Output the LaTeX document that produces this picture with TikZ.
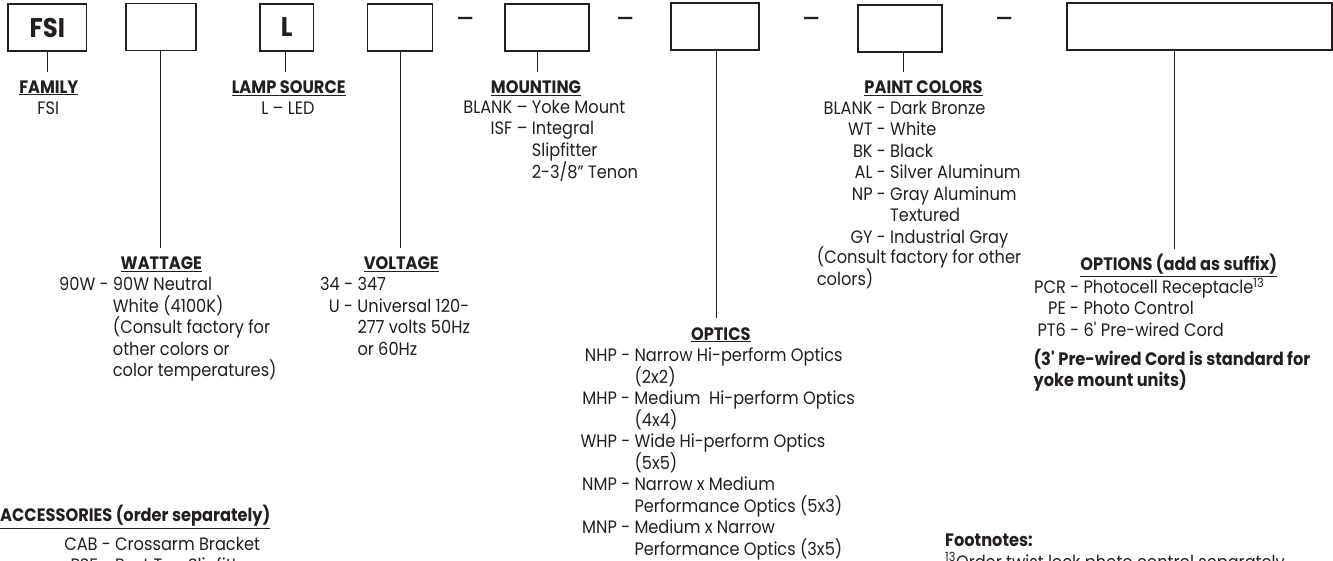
\documentclass[tikz,border=0pt]{standalone}
\usepackage{fontspec}
\setmainfont{Poppins}[FakeStretch=0.9]
\usetikzlibrary{positioning}
\definecolor{ink}{RGB}{35,31,32}
% code then dash, hung left of the description column
\newcommand\cd[2][-]{\llap{#2\ #1\ }}
% lines of a list, baseline on the first line, even line spacing
\newcommand\lst[1]{\vtop{\let\\\cr\halign{##\hfil\cr#1\crcr}}}
\tikzset{
  % ordering code boxes
  slot/.style={draw=ink,line width=1.2pt,minimum height=47pt,inner sep=0pt,
    font=\fontsize{27}{30}\selectfont\bfseries,text=ink},
  sep/.style={font=\fontsize{30}{30}\selectfont,text=ink,inner sep=0pt},
  link/.style={draw=ink,line width=1pt},
  % captions under the boxes
  head/.style={font=\fontsize{18}{21.5}\selectfont\bfseries,text=ink,inner xsep=0pt,
    inner ysep=8pt,text height=13.5pt,text depth=4pt,anchor=base},
  list/.style={font=\fontsize{18}{21.5}\selectfont,text=ink,inner sep=0pt,
    anchor=base west},
  note/.style={list,font=\fontsize{18}{21.5}\selectfont\bfseries},
}
\begin{document}
\begin{tikzpicture}[x=1pt,y=-1pt]
  \path[use as bounding box,clip] (0,0) rectangle (1333,561);
  \node[slot,minimum width=78.7pt] (fam) at (47.3,27.5) {FSI};
  \node[slot,minimum width=70pt] (watt) at (161,27) {};
  \node[slot,minimum width=53.3pt] (lamp) at (286.7,27.5) {L};
  \node[slot,minimum width=65.3pt] (volt) at (400,27.5) {};
  \node[slot,minimum width=84pt] (mount) at (547,27.5) {};
  \node[slot,minimum width=88pt] (optic) at (715,26.5) {};
  \node[slot,minimum width=84pt] (paint) at (900,28.5) {};
  \node[slot,minimum width=265pt] (opt) at (1199.5,26.5) {};
  \foreach \x [count=\i] in {465.5,625.5,811.5,1005}
    \node[sep] (sep\i) at (\x,23) {--};
  % headings
  \node[head] (famH) at (48.8,93.3) {\underline{FAMILY}};
  \node[head] (lampH) at (288.7,93.3) {\underline{LAMP SOURCE}};
  \node[head] (mountH) at (536,93.3) {\underline{MOUNTING}};
  \node[head] (paintH) at (923.5,93.3) {\underline{PAINT COLORS}};
  \node[head] (wattH) at (161.3,270) {\underline{WATTAGE}};
  \node[head] (voltH) at (401.3,270) {\underline{VOLTAGE}};
  \node[head] (opticH) at (720.8,340) {\underline{OPTICS}};
  \node[head] (optH) at (1178.8,270.7) {\underline{OPTIONS (add as suffix)}};
  \node[head,anchor=base west] (accH) at (0,521.7) {\underline{ACCESSORIES (order separately)}};
  \foreach \n/\dx in {fam/0,watt/-1,lamp/-1.7,volt/0.7,mount/-9.3,optic/1.7,paint/3,opt/-25.5}
    \draw[link] ([xshift=\dx pt]\n.south) -- ([xshift=\dx pt]\n.south |- \n H.north);
  % choices
  \node[list,anchor=base] (famL) at (48.3,115) {FSI};
  \node[list,anchor=base] (lampL) at (288,115) {L -- LED};
  \node[list] (mountL) at (531.7,113.3) {\lst{\cd[--]{BLANK}Yoke Mount\\\cd[--]{ISF}Integral\\
    Slipfitter\\2-3/8" Tenon}};
  \node[list] (paintL) at (890,114.3) {\lst{\cd{BLANK}Dark Bronze\\\cd{WT}White\\\cd{BK}Black\\
    \cd{AL}Silver Aluminum\\\cd{NP}Gray Aluminum\\Textured\\\cd{GY}Industrial Gray}};
  \node[list] (paintN) at (816.7,264) {\lst{(Consult factory for other\\colors)}};
  \node[list] (wattL) at (112.7,290.7) {\lst{\cd{90W}90W Neutral\\White (4100K)\\
    (Consult factory for\\other colors or\\color temperatures)}};
  \node[list] (voltL) at (357.3,290.7) {\lst{\cd{34}347\\\cd{U}Universal 120-\\277 volts 50Hz\\or 60Hz}};
  \node[list] (opticL) at (634.3,361.7) {\lst{\cd{NHP}Narrow Hi-perform Optics\\(2x2)\\
    \cd{MHP}Medium\ \ Hi-perform Optics\\(4x4)\\\cd{WHP}Wide Hi-perform Optics\\(5x5)\\
    \cd{NMP}Narrow x Medium\\Performance Optics (5x3)\\\cd{MNP}Medium x Narrow\\
    Performance Optics (3x5)}};
  \node[list] (optL) at (1083.3,293.3) {\lst{\cd{PCR}Photocell Receptacle\textsuperscript{13}\\
    \cd{PE}Photo Control\\\cd{PT6}6\textquotesingle{} Pre-wired Cord}};
  \node[note] (optN) at (1033.3,365) {\lst{(3\textquotesingle{} Pre-wired Cord is standard for\\
    yoke mount units)}};
  \node[list] (accL) at (115,550) {\lst{\cd{CAB}Crossarm Bracket\\\cd{PSF}Post Top Slipfitter}};
  \node[list] (foot) at (945,546.7) {\lst{\textbf{Footnotes:}\\
    \textsuperscript{13}Order twist lock photo control separately}};
\end{tikzpicture}
\end{document}
